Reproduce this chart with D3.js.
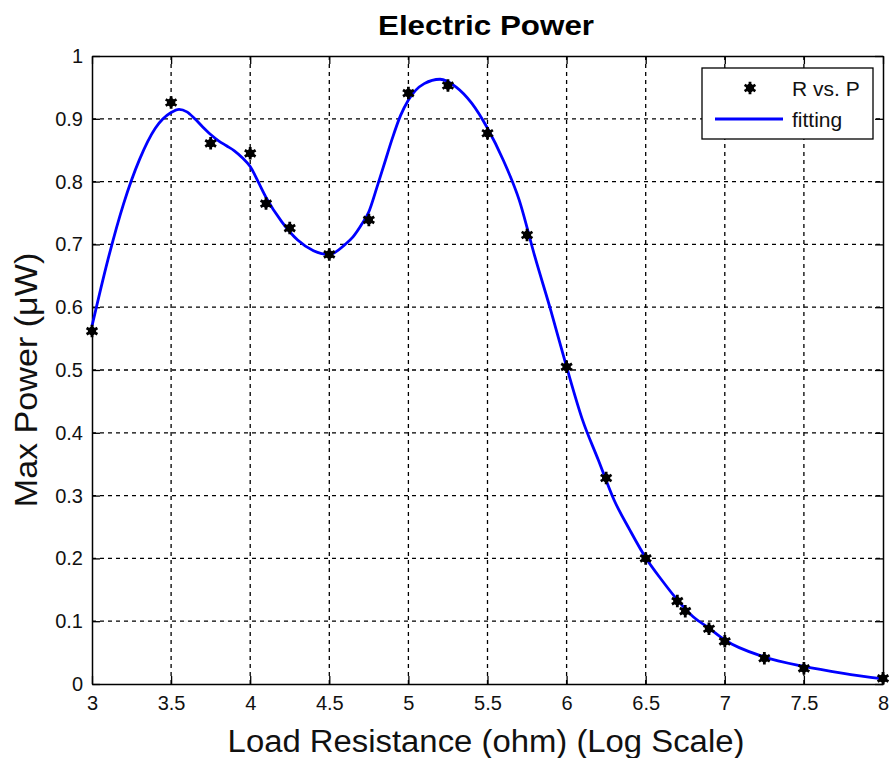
<!DOCTYPE html>
<html>
<head>
<meta charset="utf-8">
<script src="https://cdn.jsdelivr.net/npm/d3@7"></script>
<style>
  body { margin: 0; background: #fff; }
  text { font-family: "Liberation Sans", Arial, sans-serif; }
</style>
</head>
<body>
<svg width="890" height="758"></svg>
<script>
// measured points (log10 of load resistance, max power in uW)
var pointR = [3, 3.5, 3.75, 4, 4.1, 4.25, 4.5, 4.75, 5, 5.25, 5.5, 5.75, 6, 6.25, 6.5, 6.7, 6.75, 6.9, 7, 7.25, 7.5, 8];
var pointP = [0.562, 0.926, 0.861, 0.845, 0.765, 0.726, 0.684, 0.739, 0.941, 0.953, 0.877, 0.715, 0.505, 0.328, 0.2, 0.132, 0.116, 0.088, 0.068, 0.041, 0.025, 0.009];

// fitted curve
var fitR = [3, 3.1, 3.2, 3.3, 3.4, 3.5, 3.55, 3.6, 3.65, 3.7, 3.75, 3.8, 3.85, 3.9, 3.95, 4, 4.05, 4.1, 4.2, 4.3, 4.4, 4.5, 4.6, 4.65, 4.7, 4.75, 4.8, 4.85, 4.9, 4.95, 5, 5.1, 5.2, 5.3, 5.4, 5.5, 5.6, 5.7, 5.8, 5.9, 6, 6.1, 6.2, 6.3, 6.4, 6.5, 6.6, 6.7, 6.8, 6.9, 7, 7.25, 7.5, 7.75, 8];
var fitP = [0.57, 0.675, 0.765, 0.835, 0.885, 0.91, 0.915, 0.911, 0.9, 0.887, 0.875, 0.865, 0.857, 0.849, 0.838, 0.824, 0.8, 0.775, 0.736, 0.707, 0.69, 0.684, 0.7, 0.712, 0.73, 0.752, 0.79, 0.83, 0.87, 0.905, 0.93, 0.956, 0.963, 0.951, 0.925, 0.885, 0.834, 0.771, 0.68, 0.595, 0.505, 0.421, 0.357, 0.293, 0.245, 0.201, 0.166, 0.134, 0.107, 0.089, 0.07, 0.043, 0.028, 0.017, 0.008];

var xTicks = [3, 3.5, 4, 4.5, 5, 5.5, 6, 6.5, 7, 7.5, 8];
var yTicks = [0, 0.1, 0.2, 0.3, 0.4, 0.5, 0.6, 0.7, 0.8, 0.9, 1];

var margin = {top: 56, right: 7, bottom: 74, left: 92};
var width = 890, height = 758;

var svg = d3.select('svg');

var x = d3.scaleLinear().domain([3, 8]).range([margin.left, width - margin.right]);
var y = d3.scaleLinear().domain([0, 1]).range([height - margin.bottom, margin.top]);

// grid
svg.append('g').selectAll('line').data(xTicks.slice(1, -1)).enter().append('line')
    .attr('x1', d => x(d)).attr('x2', d => x(d))
    .attr('y1', y(0)).attr('y2', y(1))
    .attr('stroke', '#000').attr('stroke-width', 1.3).attr('stroke-dasharray', '4,4');
svg.append('g').selectAll('line').data(yTicks.slice(1, -1)).enter().append('line')
    .attr('y1', d => y(d)).attr('y2', d => y(d))
    .attr('x1', x(3)).attr('x2', x(8))
    .attr('stroke', '#000').attr('stroke-width', 1.3).attr('stroke-dasharray', '4,4');

// axes
var xAxis = d3.axisBottom(x).tickValues(xTicks).tickSizeInner(-8).tickSizeOuter(0).tickPadding(12).tickFormat(d3.format('~g'));
var yAxis = d3.axisLeft(y).tickValues(yTicks).tickSizeInner(-8).tickSizeOuter(0).tickPadding(9).tickFormat(d3.format('~g'));

var gx = svg.append('g').attr('transform', 'translate(0,' + y(0) + ')').call(xAxis);
var gy = svg.append('g').attr('transform', 'translate(' + x(3) + ',0)').call(yAxis);
svg.append('g').attr('transform', 'translate(0,' + y(1) + ')')
    .call(d3.axisTop(x).tickValues(xTicks).tickSizeInner(-8).tickSizeOuter(0).tickFormat(''));
svg.append('g').attr('transform', 'translate(' + x(8) + ',0)')
    .call(d3.axisRight(y).tickValues(yTicks).tickSizeInner(-8).tickSizeOuter(0).tickFormat(''));

svg.selectAll('.domain').attr('stroke', '#000').attr('stroke-width', 1.5);
svg.selectAll('.tick line').attr('stroke', '#000').attr('stroke-width', 1.3);
svg.selectAll('.tick text').attr('font-size', 20).attr('fill', '#111')
    .attr('font-family', '"Liberation Sans", Arial, sans-serif');
gx.selectAll('.tick text').attr('dy', '0.7em');

// fitted curve
var line = d3.line().x(d => x(d[0])).y(d => y(d[1])).curve(d3.curveMonotoneX);
svg.append('path')
    .datum(d3.zip(fitR, fitP))
    .attr('d', line)
    .attr('fill', 'none')
    .attr('stroke', '#0000ff')
    .attr('stroke-width', 2.8);

// data markers
var star = d3.symbol().type(d3.symbolAsterisk).size(110);
svg.append('g').selectAll('path').data(d3.zip(pointR, pointP)).enter().append('path')
    .attr('d', star)
    .attr('transform', d => 'translate(' + x(d[0]) + ',' + y(d[1]) + ')')
    .attr('stroke', '#000').attr('stroke-width', 2.8).attr('fill', 'none');
svg.append('g').selectAll('circle').data(d3.zip(pointR, pointP)).enter().append('circle')
    .attr('cx', d => x(d[0])).attr('cy', d => y(d[1])).attr('r', 4.2).attr('fill', '#000');

// legend
var lg = svg.append('g');
lg.append('rect').attr('x', 702).attr('y', 68).attr('width', 171).attr('height', 71)
    .attr('fill', '#fff').attr('stroke', '#000').attr('stroke-width', 1.3);
lg.append('path').attr('d', star).attr('transform', 'translate(750,88)')
    .attr('stroke', '#000').attr('stroke-width', 2.8).attr('fill', 'none');
lg.append('circle').attr('cx', 750).attr('cy', 88).attr('r', 4.2).attr('fill', '#000');
lg.append('text').attr('x', 792).attr('y', 96).attr('font-size', 21).attr('fill', '#111').text('R vs. P');
lg.append('line').attr('x1', 715).attr('x2', 783).attr('y1', 119).attr('y2', 119)
    .attr('stroke', '#0000ff').attr('stroke-width', 2.8);
lg.append('text').attr('x', 792).attr('y', 127).attr('font-size', 21).attr('fill', '#111').text('fitting');

// titles
svg.append('text').attr('transform', 'translate(486,35) scale(1.12,1)').attr('text-anchor', 'middle')
    .attr('font-size', 28).attr('font-weight', 'bold').text('Electric Power');
svg.append('text').attr('transform', 'translate(486,752) scale(1.06,1)').attr('text-anchor', 'middle')
    .attr('font-size', 31).attr('fill', '#111').text('Load Resistance (ohm) (Log Scale)');
svg.append('text').attr('transform', 'translate(37,380) rotate(-90) scale(1.1,1)').attr('text-anchor', 'middle')
    .attr('font-size', 31).attr('fill', '#111').text('Max Power (\u03bcW)');
</script>
</body>
</html>
